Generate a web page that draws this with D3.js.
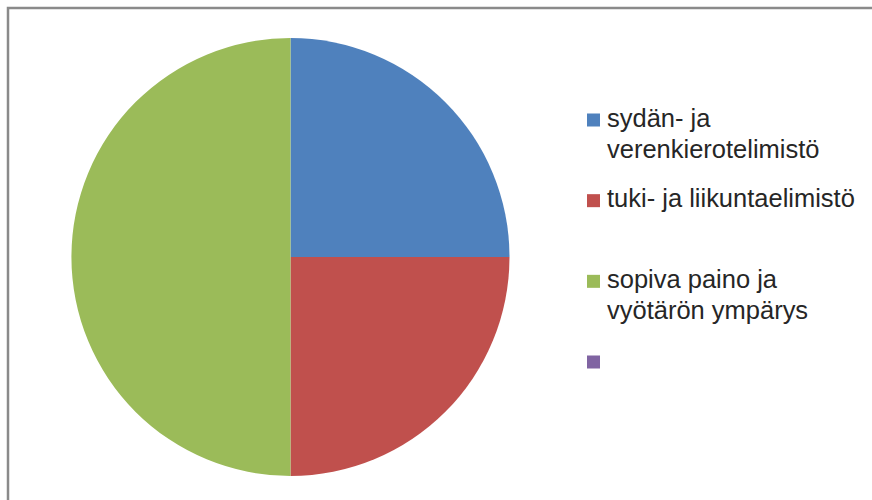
<!DOCTYPE html>
<html>
<head>
<meta charset="utf-8">
<script src="https://cdn.jsdelivr.net/npm/d3@7"></script>
<style>
  html, body { margin: 0; padding: 0; background: #fff; }
  svg { display: block; }
</style>
</head>
<body>
<svg id="chart" width="872" height="500"></svg>
<script>
const categories = ["sydän- ja verenkierotelimistö", "tuki- ja liikuntaelimistö", "sopiva paino ja vyötärön ympärys", ""];
const legendLines = [["sydän- ja", "verenkierotelimistö"], ["tuki- ja liikuntaelimistö"], ["sopiva paino ja", "vyötärön ympärys"], [""]];
const values = [25, 25, 50, 0];
const colors = ["#4F81BD", "#C0504D", "#9BBB59", "#8064A2"];

const svg = d3.select("#chart");

// chart border (top and left visible)
svg.append("rect")
  .attr("x", 8).attr("y", 8)
  .attr("width", 1000).attr("height", 1000)
  .attr("fill", "none")
  .attr("stroke", "#8a8a8a")
  .attr("stroke-width", 2.5);

const cx = 290.5, cy = 257, r = 219;
const pie = d3.pie().sort(null).value(d => d)(values);
const arc = d3.arc().innerRadius(0).outerRadius(r);

svg.append("g")
  .attr("transform", `translate(${cx},${cy})`)
  .selectAll("path")
  .data(pie)
  .join("path")
  .attr("d", arc)
  .attr("fill", (d, i) => colors[i]);

// legend
const legendY = d3.scaleLinear().domain([0, 3]).range([120, 362]);
const lg = svg.append("g");
const items = lg.selectAll("g").data(categories).join("g")
  .attr("transform", (d, i) => `translate(587,${legendY(i)})`);
items.append("rect")
  .attr("x", 0).attr("y", -6.5)
  .attr("width", 13).attr("height", 13)
  .attr("fill", (d, i) => colors[i]);
const texts = items.append("text")
  .attr("x", 20)
  .attr("font-family", "Liberation Sans, Arial, sans-serif")
  .attr("font-size", 18)
  .attr("fill", "#262626");
texts.each(function(d, i) {
  const t = d3.select(this);
  legendLines[i].forEach((ln, j) => {
    t.append("tspan").attr("x", 20).attr("y", 6.5 + j * 31.5).text(ln);
  });
});
// fit font size to reference width of the widest line
const probe = svg.append("text")
  .attr("font-family", "Liberation Sans, Arial, sans-serif")
  .attr("font-size", 18)
  .text("tuki- ja liikuntaelimistö");
const w = probe.node().getComputedTextLength();
probe.remove();
texts.attr("font-size", 18 * 248 / w);
</script>
</body>
</html>
